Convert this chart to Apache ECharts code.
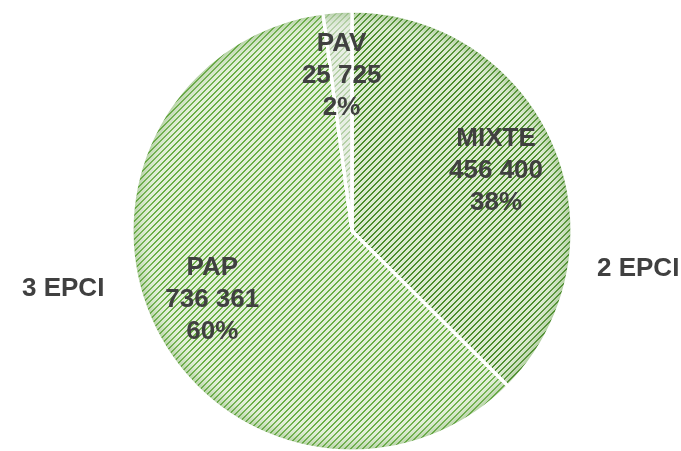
<!DOCTYPE html>
<html>
<head>
<meta charset="utf-8">
<script src="https://cdn.jsdelivr.net/npm/echarts@6/dist/echarts.min.js"></script>
<style>
  html, body { margin: 0; padding: 0; background: #fff; }
  #chart { width: 681px; height: 451px; }
</style>
</head>
<body>
<div id="chart"></div>
<script>
// donnees
const categories = ["MIXTE", "PAP", "PAV"];
const tonnages = [456400, 736361, 25725];
const percentLabels = ["38%", "60%", "2%"];
const epciLabels = ["2 EPCI", "3 EPCI", "1 EPCI"];

const textColor = "#404040";
const fontFamily = "'Liberation Sans', Arial, sans-serif";
const fontSize = 26;

// motif hachure diagonale (comme Excel)
function makePattern(bg, stripe) {
  const size = 6;
  const c = document.createElement("canvas");
  c.width = size;
  c.height = size;
  const ctx = c.getContext("2d");
  ctx.fillStyle = bg;
  ctx.fillRect(0, 0, size, size);
  ctx.fillStyle = stripe;
  for (let x = 0; x < size; x++) {
    for (let y = 0; y < size; y++) {
      const k = (x + y) % size;
      if (k === 0 || k === 1) ctx.fillRect(x, y, 1, 1);
    }
  }
  return { image: c, repeat: "repeat" };
}

const patterns = [
  makePattern("#dcebd1", "#4c8c2c"),
  makePattern("#e3f0d9", "#6aae45"),
  makePattern("#e7eee3", "#b5d0a7"),
];

function formatNumber(n) {
  return String(n).replace(/\B(?=(\d{3})+(?!\d))/g, " ");
}

const center = [352, 231];
const radius = 220;

const chart = echarts.init(document.getElementById("chart"));

const option = {
  animation: false,
  backgroundColor: "#fff",
  series: [
    {
      // camembert principal
      type: "pie",
      center: center,
      radius: [0, radius],
      startAngle: 90,
      clockwise: true,
      silent: true,
      label: { show: false },
      labelLine: { show: false },
      itemStyle: { borderColor: "#fff", borderWidth: 3 },
      data: categories.map((name, i) => ({
        name: name,
        value: tonnages[i],
        itemStyle: { color: patterns[i] },
      })),
    },
    {
      // ombre douce sur le bord
      type: "pie",
      center: center,
      radius: [0, radius],
      startAngle: 90,
      silent: true,
      label: { show: false },
      labelLine: { show: false },
      itemStyle: {
        borderColor: "#fff",
        borderWidth: 3,
        color: {
          type: "radial",
          x: center[0],
          y: center[1],
          r: radius,
          global: true,
          colorStops: [
            { offset: 0, color: "rgba(255,255,255,0)" },
            { offset: 0.9, color: "rgba(255,255,255,0)" },
            { offset: 1, color: "rgba(80,145,50,0.35)" },
          ],
        },
      },
      data: categories.map((name, i) => ({ name: name, value: tonnages[i] })),
    },
    {
      // etiquettes (anneau invisible pour placer le texte vers 68% du rayon)
      type: "pie",
      center: center,
      radius: [86, radius],
      startAngle: 90,
      silent: true,
      itemStyle: { color: "rgba(0,0,0,0)" },
      labelLine: { show: false },
      label: {
        show: true,
        position: "inside",
        color: textColor,
        fontFamily: fontFamily,
        fontWeight: "bold",
        fontSize: fontSize,
        lineHeight: 32,
        align: "center",
        formatter: (p) =>
          p.name + "\n" + formatNumber(p.value) + "\n" + percentLabels[p.dataIndex],
      },
      data: categories.map((name, i) => ({ name: name, value: tonnages[i] })),
    },
  ],
  graphic: [
    {
      type: "text",
      x: 597,
      y: 269,
      style: {
        text: epciLabels[0],
        fill: textColor,
        font: "bold " + fontSize + "px " + fontFamily,
        verticalAlign: "middle",
      },
    },
    {
      type: "text",
      x: 22,
      y: 289,
      style: {
        text: epciLabels[1],
        fill: textColor,
        font: "bold " + fontSize + "px " + fontFamily,
        verticalAlign: "middle",
      },
    },
    {
      type: "text",
      x: 368,
      y: 105,
      style: {
        text: epciLabels[2],
        fill: textColor,
        font: "bold " + fontSize + "px " + fontFamily,
        verticalAlign: "middle",
      },
    },
  ],
};

chart.setOption(option);
</script>
</body>
</html>
